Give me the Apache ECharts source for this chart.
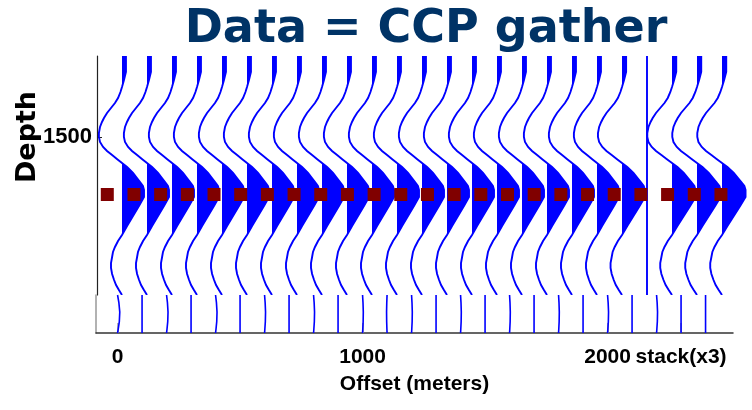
<!DOCTYPE html>
<html>
<head>
<meta charset="utf-8">
<script src="https://cdn.jsdelivr.net/npm/echarts@6/dist/echarts.min.js"></script>
<style>
  html, body { margin: 0; padding: 0; background: #ffffff; }
  #chart { width: 752px; height: 410px; }
</style>
</head>
<body>
<div id="chart"></div>
<script>
// Trace positions along the gather (offset, m): 21 offsets, a blank separator, 3 stack copies
const traceOffsets = [0, 100, 200, 300, 400, 500, 600, 700, 800, 900, 1000,
                      1100, 1200, 1300, 1400, 1500, 1600, 1700, 1800, 1900, 2000,
                      2100, 2200, 2300, 2400];
// Relative amplitude of each trace (separator is empty, stack slightly stronger)
const traceGain = [1, 1, 1, 1, 1, 1, 1, 1, 1, 1, 1,
                   1, 1, 1, 1, 1, 1, 1, 1, 1, 1.04,
                   0, 1.07, 1.07, 1.07];

// Recorded waveform (depth in m, normalised amplitude)
const waveDepth = [1338, 1354, 1370, 1386, 1400, 1410, 1422, 1432, 1442, 1452,
                   1462, 1470, 1480, 1492, 1500, 1510, 1520, 1528, 1536, 1544,
                   1552, 1560, 1572, 1582, 1590, 1598, 1606, 1620, 1638, 1658,
                   1678, 1696, 1708, 1720, 1730, 1740, 1752, 1762, 1774, 1786,
                   1796, 1806, 1816];
const waveAmp = [0.18, 0.18, 0.18, 0.09, 0, -0.07, -0.18, -0.32, -0.5, -0.68,
                 -0.82, -0.91, -1.0, -1.05, -1.05, -1.0, -0.86, -0.68, -0.45, -0.23,
                 0, 0.23, 0.5, 0.68, 0.82, 0.95, 1.0, 1.0, 0.77, 0.5,
                 0.23, 0, -0.18, -0.32, -0.41, -0.45, -0.5, -0.5, -0.45, -0.36,
                 -0.27, -0.14, 0];

// Picked event: one marker per CMP slot, all at the same depth
const pickSlots = [0, 1, 2, 3, 4, 5, 6, 7, 8, 9, 10, 11,
                   12, 13, 14, 15, 16, 17, 18, 19, 20, 21, 22, 23];
const pickDepth = [1615, 1615, 1615, 1615, 1615, 1615, 1615, 1615, 1615, 1615, 1615, 1615,
                   1615, 1615, 1615, 1615, 1615, 1615, 1615, 1615, 1615, 1615, 1615, 1615];

// Deeper strip: near-flat traces with a slight bend (m of deflection)
const lowerOffsets = traceOffsets;
const lowerBend = [-9, 0, -6, 0, -6, 0, -4, 0, -4, 0, -3,
                   2, -3, 0, -3, 0, -3, 0, -3, 0, -4,
                   0, -4, 0, 0];
const lowerFrac = [0, 0.2, 0.45, 0.7, 0.9, 1];
const lowerShape = [0, -0.6, -1, -0.8, -0.3, 0];

// Axis ticks
const depthTicks = [1500];
const offsetTicks = [0, 1000, 2000, 2300];
const offsetTickLabels = ['0', '1000', '2000', 'stack(x3)'];

// Horizontal deflection (m) for a unit amplitude
const WIGGLE = 88;
const BLUE = '#0000ff';
const LABEL_FONT = '"Liberation Sans", Arial, sans-serif';

function renderTrace(params, api) {
  const base = api.value(0);
  const g = api.value(1) * WIGGLE;
  const n = waveDepth.length;
  const line = [];
  const fill = [api.coord([base, waveDepth[0]])];
  for (let i = 0; i < n; i++) {
    const a = waveAmp[i] * g;
    if (i > 0) {
      const a0 = waveAmp[i - 1] * g;
      if ((a0 < 0 && a > 0) || (a0 > 0 && a < 0)) {
        const t = a0 / (a0 - a);
        const dz = waveDepth[i - 1] + t * (waveDepth[i] - waveDepth[i - 1]);
        fill.push(api.coord([base, dz]));
      }
    }
    const p = api.coord([base + a, waveDepth[i]]);
    line.push(p);
    fill.push(a > 0 ? p : api.coord([base, waveDepth[i]]));
  }
  fill.push(api.coord([base, waveDepth[n - 1]]));
  return {
    type: 'group',
    children: [
      { type: 'polygon', shape: { points: fill }, style: { fill: BLUE } },
      { type: 'polyline', shape: { points: line },
        style: { stroke: BLUE, lineWidth: 1.9, fill: null } }
    ]
  };
}

function renderLowerTrace(params, api) {
  const base = api.value(0);
  const bend = api.value(1);
  const pts = lowerFrac.map((f, j) => api.coord([base + bend * lowerShape[j], f]));
  return {
    type: 'polyline',
    shape: { points: pts },
    style: { stroke: BLUE, lineWidth: 1.6, fill: null }
  };
}

const chart = echarts.init(document.getElementById('chart'), null, { renderer: 'canvas' });

chart.setOption({
  animation: false,
  backgroundColor: '#ffffff',
  grid: [
    { left: 97, top: 56, width: 655, height: 239 },
    { left: 96, top: 295, width: 637, height: 38 }
  ],
  xAxis: [
    { gridIndex: 0, type: 'value', min: -100, max: 2520, show: false },
    {
      gridIndex: 1, type: 'value', min: -88, max: 2512,
      axisLine: { show: true, onZero: false, lineStyle: { color: '#333333', width: 1.5 } },
      axisTick: { show: true, inside: true, length: 10, customValues: offsetTicks,
                  lineStyle: { color: '#999999', width: 1.5 } },
      axisLabel: {
        customValues: offsetTicks,
        hideOverlap: false,
        formatter: v => offsetTickLabels[offsetTicks.indexOf(v)],
        fontFamily: LABEL_FONT, fontWeight: 'bold', fontSize: 21, color: '#000000', margin: 14
      },
      splitLine: { show: false },
      name: 'Offset (meters)', nameLocation: 'middle', nameGap: 41,
      nameTextStyle: { fontFamily: LABEL_FONT, fontWeight: 'bold', fontSize: 21, color: '#000000' }
    },
    { gridIndex: 0, type: 'value', min: -0.386, max: 24.164, show: false }
  ],
  yAxis: [
    {
      gridIndex: 0, type: 'value', inverse: true, min: 1338, max: 1816,
      axisLine: { show: true, onZero: false, lineStyle: { color: '#222222', width: 1.2 } },
      axisTick: { show: true, inside: true, length: 5, customValues: depthTicks,
                  lineStyle: { color: '#222222' } },
      axisLabel: {
        customValues: depthTicks,
        formatter: v => String(v),
        fontFamily: LABEL_FONT, fontWeight: 'bold', fontSize: 22, color: '#000000', margin: 5
      },
      splitLine: { show: false }
    },
    {
      gridIndex: 1, type: 'value', inverse: true, min: 0, max: 1,
      axisLine: { show: true, onZero: false, lineStyle: { color: '#999999', width: 1.5 } },
      axisTick: { show: false }, axisLabel: { show: false }, splitLine: { show: false }
    }
  ],
  graphic: [
    {
      type: 'text', x: 426, y: 30,
      style: {
        text: 'Data = CCP gather',
        font: 'bold 46px "DejaVu Sans", Verdana, sans-serif',
        fill: '#003366', align: 'center', verticalAlign: 'middle'
      }
    },
    {
      type: 'text', x: 28, y: 137, rotation: Math.PI / 2,
      style: {
        text: 'Depth',
        font: 'bold 27px "DejaVu Sans", Verdana, sans-serif',
        fill: '#000000', align: 'center', verticalAlign: 'middle'
      }
    }
  ],
  series: [
    {
      type: 'custom', name: 'traces', xAxisIndex: 0, yAxisIndex: 0,
      renderItem: renderTrace, clip: true, silent: true,
      data: traceOffsets.map((o, i) => [o, traceGain[i]])
    },
    {
      type: 'custom', name: 'deep traces', xAxisIndex: 1, yAxisIndex: 1,
      renderItem: renderLowerTrace, silent: true,
      data: lowerOffsets.map((o, i) => [o, lowerBend[i]])
    },
    {
      type: 'scatter', name: 'picks', xAxisIndex: 2, yAxisIndex: 0,
      symbol: 'rect', symbolSize: 13, z: 5, silent: true,
      itemStyle: { color: '#800000', opacity: 1 },
      data: pickSlots.map((s, i) => [s, pickDepth[i]])
    }
  ]
});
</script>
</body>
</html>
